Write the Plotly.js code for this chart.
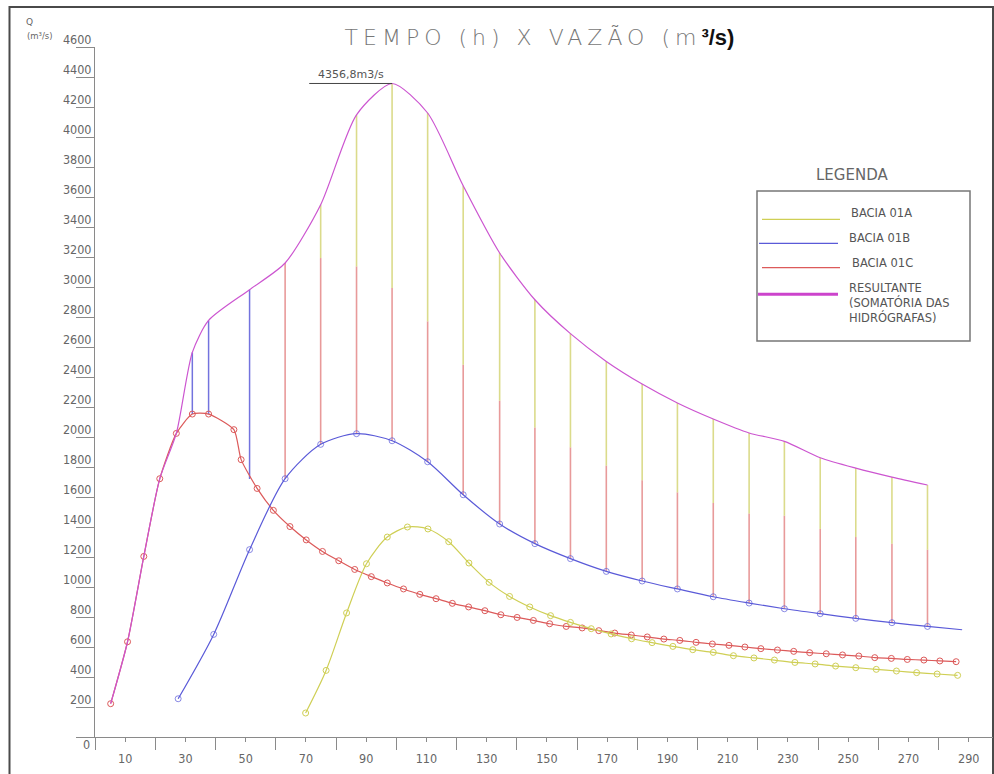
<!DOCTYPE html>
<html>
<head>
<meta charset="utf-8">
<script src="https://cdn.plot.ly/plotly-3.0.1.min.js"></script>
<style>
  html, body { margin: 0; padding: 0; background: #fff; }
  #chart { width: 994px; height: 774px; }
</style>
</head>
<body>
<div id="chart"></div>
<script>
// ---------------- DATA ----------------
// BACIA 01A (yellow)
const tempoA = [69.9, 76.7, 83.5, 90.1, 97.0, 103.7, 110.5, 117.4, 124.1, 130.8, 137.6, 144.3, 151.2, 157.8, 164.7, 171.3, 178.1, 184.9, 191.8, 198.4, 205.2, 211.9, 218.7, 225.5, 232.3, 239.0, 245.8, 252.5, 259.3, 266.0, 272.7, 279.5, 286.3];
const vazaoA = [160, 444, 827, 1155, 1333, 1400, 1387, 1302, 1160, 1031, 937, 867, 809, 764, 722, 687, 655, 629, 604, 582, 564, 542, 527, 513, 497, 487, 473, 462, 451, 440, 429, 420, 411];

// BACIA 01B (blue) - last point is the curve end (no marker)
const tempoB = [27.6, 39.4, 51.3, 63.1, 74.9, 86.8, 98.6, 110.4, 122.2, 134.3, 146.0, 157.8, 169.7, 181.6, 193.3, 205.2, 217.1, 228.8, 240.7, 252.5, 264.5, 276.3, 287.8];
const vazaoB = [255, 684, 1249, 1722, 1951, 2022, 1975, 1835, 1615, 1420, 1289, 1189, 1104, 1040, 987, 935, 893, 855, 822, 791, 762, 737, 715];
const marcadosB = 22;

// BACIA 01C (red)
const tempoC = [5.2, 10.8, 16.2, 21.5, 27.0, 32.3, 37.7, 46.1, 48.5, 53.8, 59.2, 64.7, 70.1, 75.5, 80.9, 86.2, 91.7, 97.0, 102.4, 107.8, 113.2, 118.6, 124.0, 129.4, 134.7, 140.1, 145.5, 150.9, 156.4, 161.7, 167.2, 172.5, 178.0, 183.3, 188.8, 194.1, 199.5, 204.9, 210.4, 215.7, 221.0, 226.5, 231.9, 237.2, 242.7, 248.1, 253.5, 258.8, 264.3, 269.6, 275.1, 280.4, 285.8];
const vazaoC = [222, 635, 1204, 1722, 2024, 2153, 2153, 2049, 1849, 1657, 1511, 1403, 1314, 1237, 1175, 1117, 1069, 1027, 987, 951, 922, 891, 867, 842, 815, 797, 777, 755, 737, 727, 709, 693, 680, 667, 653, 644, 631, 620, 611, 600, 589, 580, 571, 562, 555, 547, 540, 529, 524, 517, 513, 507, 502];

// RESULTANTE (sum of hydrographs)
const tempoR = [5.2, 10.8, 16.2, 21.5, 27.0, 32.3, 37.7, 51.3, 63.1, 74.9, 86.8, 98.6, 110.4, 122.2, 134.3, 146.0, 157.8, 169.7, 181.6, 193.3, 205.2, 217.1, 228.8, 240.7, 252.5, 264.5, 276.3];
const vazaoR = [222, 635, 1204, 1722, 2024, 2564, 2777, 2982, 3160, 3549, 4148, 4356.8, 4160, 3675, 3227, 2915, 2689, 2504, 2353, 2227, 2120, 2027, 1971, 1862, 1793, 1733, 1680];

// Stacking segments: B on top of C (early times)
const tempoEmpB = [32.3, 37.7, 51.3];
const baseEmpB = [2153, 2153, 1720];
const topoEmpB = [2564, 2777, 2982];

// Stacking: C on top of B (B times from 63.1 onward), then A on top
const somaBC = [3160, 3193, 3137, 2993, 2771, 2482, 2242, 2064, 1931, 1809, 1711, 1631, 1560, 1490, 1475, 1387, 1333, 1289, 1249];
const inicioEmpC = 3;   // index in tempoB where C stacking starts
const inicioR = 8;      // matching index in tempoR

// Peak
const picoTexto = '4356,8m3/s';

// Ticks
const xTickVals = [10, 30, 50, 70, 90, 110, 130, 150, 170, 190, 210, 230, 250, 270, 290];
const xMinorVals = [0, 20, 40, 60, 80, 100, 120, 140, 160, 180, 200, 220, 240, 260, 280];
const yTickVals = [0, 200, 400, 600, 800, 1000, 1200, 1400, 1600, 1800, 2000, 2200, 2400, 2600, 2800, 3000, 3200, 3400, 3600, 3800, 4000, 4200, 4400, 4600];

// Legend
const legendaNomes = ['BACIA 01A', 'BACIA 01B', 'BACIA 01C', 'RESULTANTE<br>(SOMATÓRIA DAS<br>HIDRÓGRAFAS)'];

// ---------------- STYLE ----------------
const corA = '#cfcf55', corB = '#5a5ad8', corC = '#dc5a5a', corR = '#cc55d0';
const cinza = '#8a8a8a', texto = '#666';
const fonteCad = "'Liberation Sans Narrow', 'DejaVu Sans Condensed', 'Liberation Sans', sans-serif";

// Plot area geometry (pixels)
const L = 95, R = 1, T = 47, B = 37, W = 994, H = 774;
const PW = W - L - R, PH = H - T - B;
const px = v => (v - L) / PW;
const py = v => (H - B - v) / PH;

// ---------------- TRACES ----------------
function segmentos(xs, lo, hi) {
  const x = [], y = [];
  for (let i = 0; i < xs.length; i++) {
    if (lo[i] === hi[i]) continue;
    x.push(xs[i], xs[i], null);
    y.push(lo[i], hi[i], null);
  }
  return {x, y};
}

const segB = segmentos(tempoEmpB, baseEmpB, topoEmpB);
const tC = tempoB.slice(inicioEmpC, inicioEmpC + somaBC.length);
const bC = vazaoB.slice(inicioEmpC, inicioEmpC + somaBC.length);
const segC = segmentos(tC, bC, somaBC);
const topR = vazaoR.slice(inicioR, inicioR + somaBC.length);
const segA = segmentos(tC, somaBC, topR);

const traces = [
  {x: segB.x, y: segB.y, mode: 'lines', line: {color: 'rgba(90,90,216,0.85)', width: 1.5}, hoverinfo: 'skip'},
  {x: segC.x, y: segC.y, mode: 'lines', line: {color: 'rgba(220,100,100,0.65)', width: 1.6}, hoverinfo: 'skip'},
  {x: segA.x, y: segA.y, mode: 'lines', line: {color: 'rgba(210,210,110,0.8)', width: 1.6}, hoverinfo: 'skip'},
  {x: tempoC, y: vazaoC, mode: 'lines+markers', line: {color: corC, width: 1.2, shape: 'spline', smoothing: 0.6},
   marker: {symbol: 'circle-open', size: 6, color: corC, line: {width: 1}}, name: 'BACIA 01C'},
  {x: tempoB, y: vazaoB, mode: 'lines+markers', line: {color: corB, width: 1.2, shape: 'spline', smoothing: 0.8},
   marker: {symbol: 'circle-open', size: tempoB.map((_, i) => i < marcadosB ? 6 : 0), color: corB, line: {width: 1}}, name: 'BACIA 01B'},
  {x: tempoA, y: vazaoA, mode: 'lines+markers', line: {color: corA, width: 1.2, shape: 'spline', smoothing: 0.8},
   marker: {symbol: 'circle-open', size: 6, color: corA, line: {width: 1}}, name: 'BACIA 01A'},
  {x: tempoR, y: vazaoR, mode: 'lines', line: {color: corR, width: 1.2, shape: 'spline', smoothing: 0.7}, name: 'RESULTANTE'}
];

// Peak
let iPico = 0;
vazaoR.forEach((v, i) => { if (v > vazaoR[iPico]) iPico = i; });
const picoX = tempoR[iPico], picoY = vazaoR[iPico];

// ---------------- SHAPES & ANNOTATIONS ----------------
const shapes = [
  // outer frame
  {type: 'rect', xref: 'paper', yref: 'paper', x0: px(9.5), x1: px(993), y0: py(790), y1: py(7),
   line: {color: '#4a4a4a', width: 2}, layer: 'below'},
  // peak leader
  {type: 'line', xref: 'x', yref: 'y', x0: picoX - 27.5, x1: picoX, y0: picoY, y1: picoY, line: {color: '#444', width: 1}},
  // legend box
  {type: 'rect', xref: 'paper', yref: 'paper', x0: px(757), x1: px(970), y0: py(341), y1: py(191),
   line: {color: '#777', width: 1.5}}
];

const legCores = [corA, corB, corC, '#cc44cc'];
const legLinhaY = [219.3, 243.3, 267.7, 294.3];
const legLinhaX0 = [762, 759, 762, 758];
const legLinhaX1 = [840, 838, 840, 838];
const legLarg = [1.3, 1.3, 1.3, 3];
const legTextoY = [213.3, 238.3, 262.7, 303];
const legTextoX = [849, 847, 850, 847];
for (let i = 0; i < legendaNomes.length; i++) {
  shapes.push({type: 'line', xref: 'paper', yref: 'paper', x0: px(legLinhaX0[i]), x1: px(legLinhaX1[i]),
               y0: py(legLinhaY[i]), y1: py(legLinhaY[i]), line: {color: legCores[i], width: legLarg[i]}});
}

const annotations = [
  {xref: 'x', yref: 'y', x: picoX, y: picoY, text: picoTexto, showarrow: false, xanchor: 'right', yanchor: 'bottom',
   xshift: -6, yshift: 0, font: {family: "'DejaVu Sans', sans-serif", size: 11, color: '#555'}},
  {xref: 'x', yref: 'y', x: 0, y: 0, text: '0', showarrow: false, xanchor: 'right', yanchor: 'top',
   xshift: -3, yshift: 2, font: {family: fonteCad, size: 12.5, color: texto}},
  {xref: 'paper', yref: 'paper', x: px(29), y: py(22), text: 'Q', showarrow: false, xanchor: 'center', yanchor: 'middle',
   font: {family: "'DejaVu Sans', sans-serif", size: 9, color: texto}},
  {xref: 'paper', yref: 'paper', x: px(40), y: py(35.5), text: '(m³/s)', showarrow: false, xanchor: 'center', yanchor: 'middle',
   font: {family: "'DejaVu Sans', sans-serif", size: 8.5, color: texto}},
  {xref: 'paper', yref: 'paper', x: px(852), y: py(175), text: 'LEGENDA', showarrow: false, xanchor: 'center', yanchor: 'middle',
   font: {family: "'DejaVu Sans', sans-serif", size: 15, color: texto}}
];
for (let i = 0; i < legendaNomes.length; i++) {
  annotations.push({xref: 'paper', yref: 'paper', x: px(legTextoX[i]), y: py(legTextoY[i]), text: legendaNomes[i],
    showarrow: false, xanchor: 'left', yanchor: 'middle', align: 'left',
    font: {family: "'DejaVu Sans', sans-serif", size: 11.5, color: '#555'}});
}

// ---------------- LAYOUT ----------------
const layout = {
  width: W, height: H,
  margin: {l: L, r: R, t: T, b: B, pad: 0},
  paper_bgcolor: '#fff', plot_bgcolor: '#fff',
  showlegend: false,
  hovermode: false,
  title: {
    text: '<span style="letter-spacing:5px">TEMPO (h) X VAZÃO (m</span><span style="font-family:Liberation Sans, Arial, sans-serif;font-weight:bold;fill:#111">³/s)</span>',
    x: 539.5 / W, xref: 'container', xanchor: 'center',
    y: 1 - 37 / H, yref: 'container', yanchor: 'middle',
    font: {family: "'DejaVu Sans', sans-serif", size: 22, color: '#777', weight: 200}
  },
  xaxis: {
    range: [0, (W - R - L) / 3.013], showgrid: false, zeroline: false,
    showline: true, linecolor: cinza, linewidth: 1,
    tickmode: 'array', tickvals: xTickVals, ticktext: xTickVals.map(String),
    ticks: 'outside', ticklen: 4, tickcolor: cinza, tickwidth: 1,
    ticklabelstandoff: 6,
    tickfont: {family: fonteCad, size: 12.5, color: texto},
    minor: {tickmode: 'array', tickvals: xMinorVals, ticks: 'outside', ticklen: 12, tickcolor: cinza, tickwidth: 1, showgrid: false},
    fixedrange: true
  },
  yaxis: {
    range: [0, 4600], showgrid: false, zeroline: false,
    showline: true, linecolor: cinza, linewidth: 1,
    tickmode: 'array', tickvals: yTickVals, ticktext: yTickVals.map(v => v === 0 ? '' : String(v)),
    ticks: 'outside', ticklen: 18, tickcolor: cinza, tickwidth: 1,
    ticklabelshift: -7, ticklabelstandoff: -18,
    tickfont: {family: fonteCad, size: 12.5, color: texto},
    fixedrange: true
  },
  shapes: shapes,
  annotations: annotations
};

Plotly.newPlot('chart', traces, layout, {displayModeBar: false, staticPlot: true});
</script>
</body>
</html>
